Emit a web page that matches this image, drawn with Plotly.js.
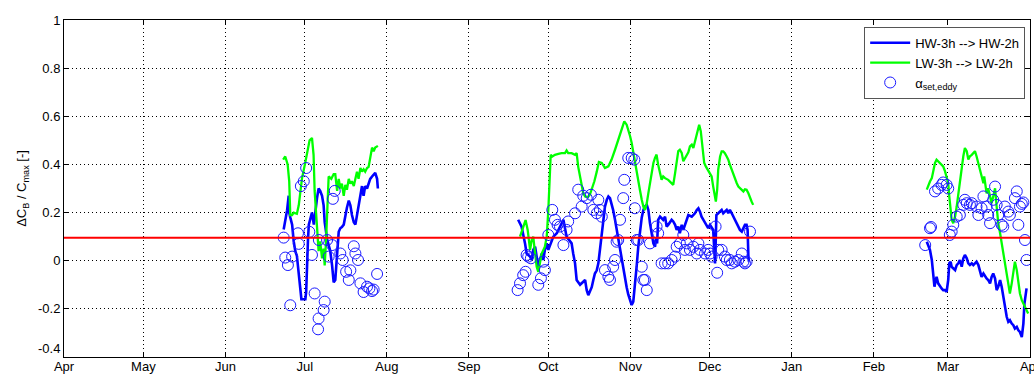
<!DOCTYPE html>
<html>
<head>
<meta charset="utf-8">
<script src="https://cdn.plot.ly/plotly-3.0.1.min.js"></script>
<style>
  html, body { margin: 0; padding: 0; background: #ffffff; }
  #chart { width: 1034px; height: 374px; }
</style>
</head>
<body>
<div id="chart"></div>
<script>
// x values are days since 1 April
const monthDays = [0, 30, 61, 91, 122, 153, 183, 214, 244, 275, 306, 334, 365];
const monthLabels = ['Apr', 'May', 'Jun', 'Jul', 'Aug', 'Sep', 'Oct', 'Nov', 'Dec', 'Jan', 'Feb', 'Mar', 'Apr'];
const yTicks = [-0.4, -0.2, 0, 0.2, 0.4, 0.6, 0.8, 1];
const yTickLabels = ['-0.4<br>&nbsp;', '-0.2', '0', '0.2', '0.4', '0.6', '0.8', '1'];
const refLevel = 0.095;

// HW-3h --> HW-2h (blue)
const hwDays1 = [83.0,84.3,84.9,85.1,85.5,86.2,86.8,87.4,88.0,88.7,89.3,89.7,90.2,91.2,91.5,91.8,92.2,92.5,93.1,93.7,94.4,95.0,95.6,96.2,96.8,97.5,98.1,98.5,99.0,99.4,100.0,100.6,101.3,101.9,102.5,103.2,103.8,104.4,105.0,105.7,106.3,106.9,107.6,108.2,108.8,109.5,110.1,110.7,111.3,112.0,112.6,113.2,113.8,114.5,115.1,115.7,116.4,117.0,117.6,118.3,118.6];
const hw1 = [0.13,0.21,0.27,0.20,0.18,0.15,0.08,0.04,0.02,-0.05,-0.10,-0.16,-0.16,-0.16,-0.13,0.01,0.09,0.15,0.18,0.20,0.15,0.22,0.26,0.30,0.29,0.27,0.23,0.16,0.11,0.09,0.065,0.04,-0.02,-0.09,-0.08,0.04,0.12,0.135,0.14,0.15,0.19,0.22,0.25,0.23,0.19,0.16,0.15,0.19,0.23,0.27,0.31,0.27,0.31,0.30,0.32,0.34,0.35,0.36,0.365,0.34,0.30];
const hwDays2 = [171.6,172.9,174.2,174.8,176.1,176.7,177.3,178.0,178.6,179.2,180.5,181.1,181.7,182.4,183.0,184.9,186.2,187.4,188.7,189.9,191.8,192.4,193.1,193.7,195.0,196.9,197.5,198.1,199.4,200.0,200.6,201.3,201.9,202.5,203.2,203.8,204.4,205.1,205.7,206.3,206.9,207.5,208.2,208.8,209.4,210.1,210.7,211.3,212.0,212.6,213.2,213.9,214.5,215.1,215.7,216.4,217.0,217.6,218.3,218.9,219.5,220.2,220.8,221.4,222.1,222.7,223.3,223.7,224.1,224.5,225.2,225.8,226.4,227.1,227.7,228.3,229.0,229.6,230.2,230.9,231.5,232.1,232.7,233.4,234.0,234.6,235.3,235.9,237.2,238.4,239.1,239.7,240.3,240.9,241.6,242.2,242.8,243.4,244.1,244.7,245.3,245.7,246.0,246.2,246.5,247.2,247.9,248.5,249.1,249.7,250.4,251.0,251.6,252.3,252.9,253.5,254.2,254.8,255.4,256.1,256.7,257.3,257.9,258.3,258.6,258.8];
const hw2 = [0.17,0.141,0.072,0.03,0.017,0.003,0.045,0.058,0.017,-0.025,0.03,0.003,0.045,0.072,0.045,0.10,0.114,0.141,0.17,0.10,0.072,0.03,-0.011,-0.08,-0.10,-0.08,-0.122,-0.143,-0.11,-0.08,-0.053,-0.04,-0.011,0.045,0.114,0.183,0.225,0.253,0.267,0.26,0.239,0.21,0.17,0.13,0.09,0.05,0.01,-0.03,-0.07,-0.11,-0.14,-0.165,-0.184,-0.17,-0.11,-0.02,0.06,0.13,0.18,0.21,0.225,0.232,0.211,0.156,0.10,0.072,0.058,0.093,0.072,0.17,0.183,0.176,0.17,0.183,0.142,0.149,0.163,0.17,0.163,0.149,0.128,0.142,0.114,0.149,0.128,0.15,0.17,0.19,0.183,0.197,0.211,0.218,0.204,0.183,0.17,0.156,0.142,0.135,0.149,0.135,0.128,0.045,-0.011,0.058,0.19,0.197,0.204,0.211,0.197,0.204,0.211,0.197,0.211,0.197,0.183,0.17,0.156,0.142,0.128,0.121,0.135,0.149,0.149,0.128,0.017,-0.004];
const hwDays3 = [326.0,326.6,327.2,327.9,328.5,328.9,329.4,329.7,330.3,331.0,331.6,332.2,332.9,333.5,334.1,334.5,335.0,335.4,336.0,336.7,337.3,337.9,338.5,339.2,339.8,340.4,341.1,341.7,342.3,343.0,343.6,344.2,344.8,345.5,346.1,346.7,347.4,348.0,348.6,349.2,349.9,350.5,351.1,351.8,352.4,353.0,353.7,354.3,354.9,355.5,356.2,356.8,357.4,358.1,358.7,359.3,360.0,360.6,361.2,361.9,362.5,362.9,363.4,363.7];
const hw3 = [0.079,0.058,0.045,0.003,-0.067,-0.108,-0.08,-0.067,-0.094,-0.108,-0.115,-0.122,-0.122,-0.129,-0.08,-0.011,-0.004,-0.025,-0.032,-0.039,-0.018,-0.011,0.003,-0.025,0.01,0.024,0.01,-0.011,-0.018,-0.011,-0.018,-0.011,-0.004,-0.018,-0.039,-0.067,-0.053,-0.067,-0.074,-0.08,-0.094,-0.067,-0.053,-0.074,-0.122,-0.108,-0.08,-0.108,-0.15,-0.178,-0.233,-0.254,-0.247,-0.261,-0.268,-0.282,-0.275,-0.289,-0.296,-0.317,-0.261,-0.178,-0.122,-0.115];

// LW-3h --> LW-2h (green)
const lwDays1 = [82.8,83.6,84.5,85.1,85.5,86.2,86.8,88.0,88.7,89.9,91.2,92.2,92.8,93.7,94.3,94.7,95.6,96.2,96.8,97.5,98.1,98.5,99.0,99.4,100.0,101.0,101.9,102.5,103.2,103.8,104.4,105.0,105.7,106.3,106.9,107.6,108.2,108.8,109.5,110.1,110.7,111.3,112.0,112.6,113.2,113.8,114.5,115.1,115.7,116.4,117.0,117.6,118.6];
const lw1 = [0.42,0.433,0.40,0.33,0.19,0.19,0.20,0.195,0.23,0.34,0.41,0.475,0.50,0.51,0.44,0.29,0.107,0.04,0.08,0.01,0.05,-0.02,0.08,0.22,0.35,0.34,0.36,0.36,0.29,0.34,0.30,0.32,0.27,0.315,0.295,0.34,0.32,0.33,0.31,0.34,0.37,0.34,0.385,0.37,0.38,0.37,0.385,0.39,0.43,0.47,0.455,0.47,0.477];
const lwDays2 = [172.3,173.5,174.4,175.2,175.7,176.1,176.7,177.3,178.0,178.6,179.2,179.9,180.5,181.7,182.4,183.0,183.4,183.9,184.5,185.5,186.8,188.0,189.3,189.9,190.5,191.8,193.1,193.7,194.3,195.0,195.6,196.2,196.9,197.9,198.7,199.6,200.4,201.3,202.1,203.2,204.4,205.7,206.9,208.2,209.4,210.7,211.7,212.6,213.2,213.9,214.5,215.1,215.7,216.4,217.0,217.6,218.3,218.9,219.5,220.2,220.8,221.4,222.1,222.7,223.3,223.9,224.5,225.2,225.8,226.4,227.1,228.3,229.0,230.2,230.9,231.5,232.1,232.7,233.4,234.0,234.6,235.9,236.5,237.2,237.8,238.4,239.1,239.7,240.0,240.6,240.9,241.6,241.9,242.5,243.2,244.1,244.7,245.3,246.0,246.3,246.8,247.2,247.9,248.5,249.1,249.7,250.4,251.0,251.6,252.3,252.9,253.5,254.2,254.8,255.4,256.1,256.7,257.3,257.9,258.6,259.2,259.8,260.4];
const lw2 = [0.10,0.141,0.169,0.128,0.072,0.045,0.086,0.10,0.03,-0.025,-0.046,-0.011,0.03,0.058,0.10,0.21,0.35,0.44,0.433,0.44,0.444,0.447,0.447,0.458,0.447,0.447,0.44,0.447,0.39,0.35,0.31,0.28,0.267,0.264,0.274,0.30,0.33,0.37,0.41,0.406,0.385,0.392,0.42,0.461,0.503,0.551,0.579,0.565,0.545,0.517,0.489,0.448,0.406,0.364,0.329,0.295,0.253,0.225,0.211,0.239,0.281,0.323,0.364,0.406,0.427,0.441,0.399,0.364,0.336,0.35,0.343,0.336,0.329,0.315,0.364,0.406,0.455,0.461,0.448,0.413,0.425,0.45,0.475,0.482,0.468,0.496,0.517,0.545,0.565,0.538,0.503,0.447,0.406,0.392,0.378,0.364,0.35,0.308,0.253,0.246,0.295,0.378,0.433,0.454,0.454,0.447,0.433,0.42,0.399,0.378,0.357,0.336,0.322,0.308,0.301,0.295,0.288,0.297,0.295,0.28,0.26,0.246,0.232];
const lwDays3 = [326.0,326.6,327.2,327.9,328.5,329.1,329.7,330.3,331.0,331.6,332.2,332.9,333.5,334.1,334.5,334.9,335.4,336.0,336.7,337.3,337.9,338.5,339.2,339.8,340.4,341.1,341.7,342.3,343.0,343.6,344.2,344.8,345.5,346.1,346.7,347.4,347.7,348.3,348.6,349.2,349.9,350.5,351.1,351.8,352.4,353.0,353.7,354.3,354.9,355.5,356.2,356.8,357.4,358.1,358.7,359.3,360.0,360.6,361.2,361.9,362.5,363.1,363.7,364.3];
const lw3 = [0.295,0.315,0.329,0.343,0.378,0.406,0.42,0.413,0.406,0.399,0.392,0.371,0.35,0.322,0.267,0.211,0.17,0.156,0.184,0.225,0.28,0.336,0.392,0.434,0.468,0.455,0.42,0.434,0.44,0.447,0.455,0.434,0.406,0.378,0.35,0.322,0.35,0.308,0.28,0.301,0.267,0.239,0.267,0.301,0.225,0.156,0.114,0.072,0.03,-0.011,-0.053,-0.094,-0.136,-0.094,-0.039,-0.004,-0.039,-0.094,-0.136,-0.164,-0.178,-0.192,-0.212,-0.219];

// alpha_set,eddy (circles)
const alphaDays1 = [83.0,83.6,84.6,86.2,85.5,88.4,88.7,89.5,90.6,91.5,92.7,93.7,94.7,98.5,98.1,96.2,96.0,102.3,101.6,99.4,100.0,101.3,104.4,105.3,106.6,107.6,108.2,109.5,110.1,111.1,112.0,113.2,114.5,115.4,116.4,117.0,118.3,96.3];
const alpha1 = [0.096,0.013,-0.018,0.017,-0.185,0.114,0.07,0.31,0.33,0.385,0.12,0.024,-0.136,-0.17,-0.205,-0.24,-0.285,0.29,0.257,0.086,0.017,0.065,0.03,0.003,-0.046,-0.08,-0.04,0.06,0.03,0.003,-0.094,-0.13,-0.108,-0.115,-0.126,-0.12,-0.055,0.086];
const alphaDays2 = [171.4,172.3,173.5,174.4,174.8,175.4,176.4,179.2,180.2,181.1,181.7,183.0,184.5,185.5,186.5,187.4,188.7,189.9,190.5,193.1,194.3,195.6,196.2,197.5,199.1,200.0,201.3,201.9,202.5,203.2,204.4,205.7,206.3,207.5,208.2,208.8,209.4,210.1,211.3,211.7,213.2,214.5,215.5,215.7,216.4,217.0,218.3,218.9,220.2,219.5,221.4,223.9,224.5,225.8,227.1,228.3,229.6,230.9,231.5,232.7,234.0,234.6,235.3,236.5,237.8,239.1,239.7,240.3,242.2,243.4,244.1,244.7,246.2,246.8,247.2,248.5,249.7,250.4,251.6,252.3,253.5,254.8,256.1,256.7,257.3,257.9,259.2];
const alpha2 = [-0.122,-0.094,-0.06,-0.046,0.024,0.017,0.01,-0.10,-0.073,-0.004,-0.039,0.107,0.211,0.17,0.149,0.142,0.065,0.128,0.163,0.197,0.295,0.225,0.27,0.26,0.274,0.211,0.197,0.253,0.211,0.183,-0.039,-0.067,-0.08,-0.025,0.003,0.079,0.086,0.17,0.26,0.336,0.427,0.427,0.42,0.218,0.086,0.086,-0.025,-0.08,-0.122,-0.08,0.072,0.142,0.114,-0.011,-0.011,-0.011,0.003,0.017,0.058,0.072,0.107,0.045,0.072,0.045,0.058,0.03,0.072,0.045,0.03,0.045,0.03,0.017,0.142,-0.05,0.045,0.045,0.017,0.003,0.003,-0.011,-0.004,0.003,0.03,-0.004,-0.011,-0.004,0.121];
const alphaDays3 = [325.4,327.2,327.6,329.1,330.3,331.6,332.2,333.5,334.1,334.7,335.4,336.0,337.3,338.5,339.8,340.4,341.1,342.3,343.0,344.8,345.5,346.7,347.4,348.6,349.2,349.9,351.1,351.8,352.4,353.0,354.3,354.9,355.5,356.8,357.4,359.3,360.0,360.6,361.2,361.9,362.5,363.1,363.7];
const alpha3 = [0.065,0.135,0.14,0.288,0.30,0.315,0.325,0.315,0.30,0.107,0.121,0.149,0.183,0.19,0.232,0.253,0.239,0.232,0.239,0.225,0.19,0.218,0.267,0.225,0.19,0.156,0.253,0.308,0.232,0.19,0.149,0.142,0.225,0.204,0.19,0.26,0.288,0.149,0.225,0.236,0.242,0.086,0.003];

function joinSegments(segs) {
  const out = [];
  segs.forEach((s, i) => { if (i > 0) out.push(null); s.forEach(v => out.push(v)); });
  return out;
}

const FONT = 'Liberation Sans, Arial, Helvetica, sans-serif';

const traces = [
  {
    name: 'HW-3h --> HW-2h', type: 'scatter', mode: 'lines',
    x: joinSegments([hwDays1, hwDays2, hwDays3]),
    y: joinSegments([hw1, hw2, hw3]),
    line: { color: '#0000ff', width: 2.6 }
  },
  {
    name: 'LW-3h --> LW-2h', type: 'scatter', mode: 'lines',
    x: joinSegments([lwDays1, lwDays2, lwDays3]),
    y: joinSegments([lw1, lw2, lw3]),
    line: { color: '#00ff00', width: 2.3 }
  },
  {
    name: 'α<sub>set,eddy</sub>', type: 'scatter', mode: 'markers',
    x: alphaDays1.concat(alphaDays2, alphaDays3),
    y: alpha1.concat(alpha2, alpha3),
    marker: { symbol: 'circle-open', size: 11, color: '#1a1aff', line: { width: 1, color: '#1a1aff' } }
  },
  {
    name: 'ref', type: 'scatter', mode: 'lines', showlegend: false,
    x: [monthDays[0], monthDays[monthDays.length - 1]],
    y: [refLevel, refLevel],
    line: { color: '#ff0000', width: 2 }
  }
];

const axisCommon = {
  ticks: 'inside', ticklen: 5, tickwidth: 1, tickcolor: '#000',
  showline: true, linecolor: '#000', linewidth: 1, mirror: 'ticks',
  showgrid: true, gridcolor: '#000', gridwidth: 1, griddash: '1px,3px',
  zeroline: false,
  tickfont: { family: FONT, size: 13, color: '#000' }
};

const layout = {
  width: 1034, height: 374,
  margin: { l: 64, r: 4, t: 20, b: 17, pad: 0 },
  paper_bgcolor: '#ffffff', plot_bgcolor: '#ffffff',
  font: { family: FONT, size: 13, color: '#000' },
  showlegend: true,
  xaxis: Object.assign({}, axisCommon, {
    range: [monthDays[0], monthDays[monthDays.length - 1]],
    tickmode: 'array', tickvals: monthDays, ticktext: monthLabels,
    ticklabelstandoff: -3, ticklabeloverflow: 'allow', automargin: false
  }),
  yaxis: Object.assign({}, axisCommon, {
    range: [yTicks[0], yTicks[yTicks.length - 1]],
    tickmode: 'array', tickvals: yTicks, ticktext: yTickLabels,
    title: { text: 'ΔC<sub>B</sub> / C<sub>max</sub> [-]', font: { family: FONT, size: 13, color: '#000' }, standoff: 8 }
  }),
  legend: {
    x: 0.995, xanchor: 'right', y: 0.98, yanchor: 'top',
    bgcolor: '#ffffff', bordercolor: '#555', borderwidth: 1,
    font: { family: FONT, size: 13, color: '#000' },
    itemwidth: 40, tracegroupgap: 0
  }
};

Plotly.newPlot('chart', traces, layout, { displayModeBar: false, staticPlot: true });
</script>
</body>
</html>
